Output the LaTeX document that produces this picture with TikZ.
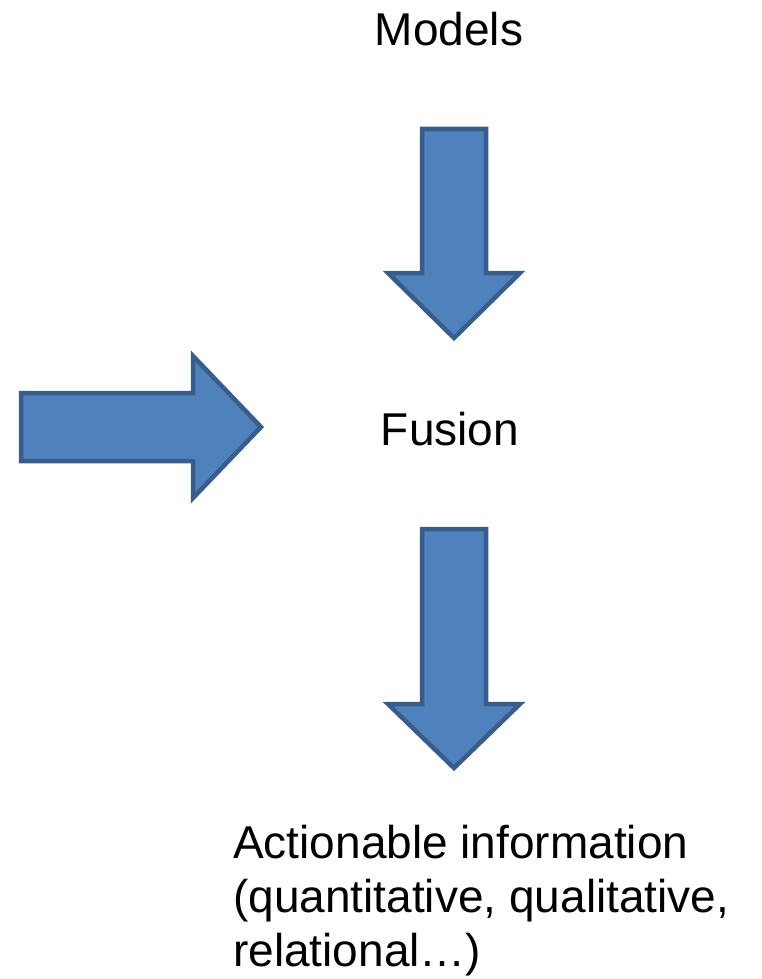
\documentclass[tikz,border=0pt]{standalone}
\usepackage{fontspec}
\setmainfont{Liberation Sans}
\usetikzlibrary{positioning}
\definecolor{arrowfill}{HTML}{4F81BD}
\definecolor{arrowline}{HTML}{385D8A}
\tikzset{bigarrow/.style={fill=arrowfill, draw=arrowline, line width=4.5pt, line join=miter},
  label text/.style={font=\fontsize{46}{54}\selectfont, inner sep=0pt}}

\begin{document}
\begin{tikzpicture}[x=1pt, y=-1pt]
\useasboundingbox (0,0) rectangle (761,979);
    \node[label text, anchor=base] (models) at (449,46){Models};
    \node[label text, anchor=base] (fusion) at (450,445){Fusion};
    \node[label text, anchor=base west, align=left] (info) at (233,966)
        {Actionable information\\(quantitative, qualitative,\\relational\ldots)};
% arrows
\draw[bigarrow](422,129)--(486,129)--(486,273)--(520,273)--(454,338)--(388,273)--(422,273)--cycle;
\draw[bigarrow](21,393)--(193,393)--(193,356)--(261,427)--(193,498)--(193,461)--(21,461)--cycle;
\draw[bigarrow](422,529)--(486,529)--(486,704)--(520,704)--(454,768)--(388,704)--(422,704)--cycle;
\end{tikzpicture}
\end{document}
